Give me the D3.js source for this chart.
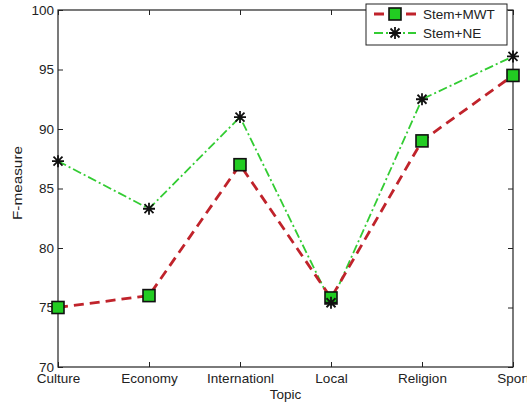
<!DOCTYPE html>
<html><head><meta charset="utf-8">
<script src="https://cdn.jsdelivr.net/npm/d3@7"></script>
<style>body{margin:0;background:#fff}svg{display:block}text{font-family:"Liberation Sans",Arial,sans-serif}</style>
</head><body><svg id="c" width="527" height="408"></svg>
<script>
const categories = ["Culture","Economy","Internationl","Local","Religion","Sport"];
const stemMWT = [75.0, 76.0, 87.0, 75.8, 89.0, 94.5];
const stemNE  = [87.3, 83.3, 91.0, 75.4, 92.5, 96.1];
const yTicks = [70,75,80,85,90,95,100];
const seriesNames = ["Stem+MWT","Stem+NE"];

const svg = d3.select("#c");
const L=58,R=513,T=10,B=367;
const x = d3.scalePoint().domain(categories).range([L,R]);
const y = d3.scaleLinear().domain([70,100]).range([B,T]);
const fs = "13.5px";

// frame
svg.append("rect").attr("x",L).attr("y",T).attr("width",R-L).attr("height",B-T)
  .attr("fill","none").attr("stroke","#222").attr("stroke-width",1.2);

const gx = svg.append("g").attr("transform",`translate(0,${B})`)
  .call(d3.axisBottom(x).tickSize(-5).tickPadding(6));
const gxt = svg.append("g").attr("transform",`translate(0,${T})`)
  .call(d3.axisTop(x).tickSize(-5).tickFormat(""));
const gy = svg.append("g").attr("transform",`translate(${L},0)`)
  .call(d3.axisLeft(y).tickValues(yTicks).tickSize(-5).tickPadding(4));
const gyr = svg.append("g").attr("transform",`translate(${R},0)`)
  .call(d3.axisRight(y).tickValues(yTicks).tickSize(-5).tickFormat(""));
[gx,gxt,gy,gyr].forEach(g=>{
  g.select(".domain").remove();
  g.selectAll("line").attr("stroke","#222");
  g.selectAll("text").attr("fill","#222").style("font-size",fs).style("font-family","'Liberation Sans',Arial,sans-serif");
});
gy.selectAll("text").attr("dy","0.32em");
gx.selectAll("text").attr("dy","0.72em");

svg.append("text").attr("x",(L+R)/2).attr("y",399).attr("text-anchor","middle")
  .style("font-size","13.5px").attr("fill","#222").text("Topic");
svg.append("text").attr("transform",`translate(22,${183}) rotate(-90)`).attr("text-anchor","middle")
  .attr("textLength",74).attr("lengthAdjust","spacingAndGlyphs")
  .style("font-size","13px").attr("fill","#222").text("F-measure");

const line = d3.line().x((d,i)=>x(categories[i])).y(d=>y(d));
const red="#c0232b", green="#33cc33";
svg.append("path").datum(stemNE).attr("d",line).attr("fill","none")
  .attr("stroke",green).attr("stroke-width",1.8).attr("stroke-dasharray","9,3,2,3");
svg.append("path").datum(stemMWT).attr("d",line).attr("fill","none")
  .attr("stroke",red).attr("stroke-width",2.8).attr("stroke-dasharray","10,6");

function square(g,cx,cy){
  g.append("rect").attr("x",cx-6).attr("y",cy-6).attr("width",12).attr("height",12)
    .attr("fill","#22cc22").attr("stroke","#111").attr("stroke-width",1.6);
}
function star(g,cx,cy){
  const r=6, r2=4.5;
  const p=`M${cx-r},${cy}H${cx+r}M${cx},${cy-r}V${cy+r}M${cx-r2},${cy-r2}L${cx+r2},${cy+r2}M${cx-r2},${cy+r2}L${cx+r2},${cy-r2}`;
  g.append("path").attr("d",p).attr("stroke","#111").attr("stroke-width",1.8).attr("fill","none");
}
const gm = svg.append("g");
stemMWT.forEach((v,i)=>square(gm,x(categories[i]),y(v)));
const gs = svg.append("g");
stemNE.forEach((v,i)=>star(gs,x(categories[i]),y(v)));

// legend
const lg = svg.append("g");
lg.append("rect").attr("x",366).attr("y",4).attr("width",141).attr("height",41)
  .attr("fill","#fff").attr("stroke","#222").attr("stroke-width",1);
lg.append("line").attr("x1",374).attr("x2",416).attr("y1",14).attr("y2",14)
  .attr("stroke",red).attr("stroke-width",2.8).attr("stroke-dasharray","10,6");
square(lg,395,14);
lg.append("line").attr("x1",374).attr("x2",416).attr("y1",33).attr("y2",33)
  .attr("stroke",green).attr("stroke-width",1.8).attr("stroke-dasharray","9,3,2,3");
star(lg,395,33);
lg.append("text").attr("x",423).attr("y",14).attr("dy","0.35em").style("font-size",fs).attr("fill","#222").text(seriesNames[0]);
lg.append("text").attr("x",423).attr("y",33).attr("dy","0.35em").style("font-size",fs).attr("fill","#222").text(seriesNames[1]);
</script></body></html>
